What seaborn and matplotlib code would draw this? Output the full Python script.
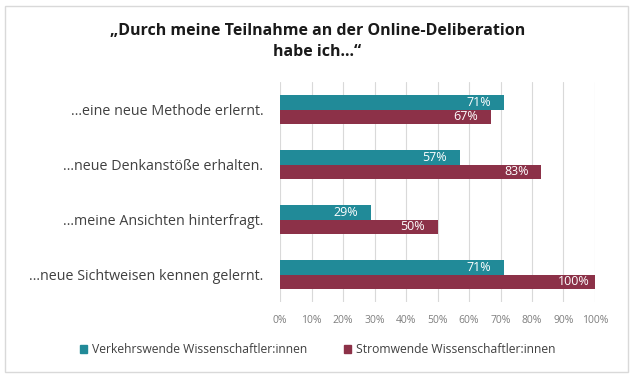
import seaborn as sns
import pandas as pd
import numpy as np
import matplotlib.pyplot as plt
from matplotlib.patches import Rectangle

statements = ['…eine neue Methode erlernt.', '…neue Denkanstöße erhalten.',
              '…meine Ansichten hinterfragt.', '…neue Sichtweisen kennen gelernt.']
groups = ['Verkehrswende Wissenschaftler:innen', 'Stromwende Wissenschaftler:innen']
verkehr = [71, 57, 29, 71]
strom = [67, 83, 50, 100]
x_ticks = [0, 10, 20, 30, 40, 50, 60, 70, 80, 90, 100]
colors = ['#218a98', '#8c3148']

data = pd.DataFrame({
    'Aussage': statements * 2,
    'Gruppe': [groups[0]] * 4 + [groups[1]] * 4,
    'Anteil': verkehr + strom,
})

sns.set_style('white')
plt.rcParams['font.family'] = ['Open Sans', 'DejaVu Sans']

fig = plt.figure(figsize=(6.35, 3.8), dpi=100)
ax = fig.add_axes([0.441, 0.205, 0.496, 0.579])

sns.barplot(data=data, y='Aussage', x='Anteil', hue='Gruppe', orient='h',
            palette=colors, width=0.52, dodge=True, saturation=1, ax=ax,
            order=statements, hue_order=groups, legend=False, linewidth=0,
            gap=0)

for cont in ax.containers:
    ax.bar_label(cont, labels=[f'{v:.0f}%' for v in cont.datavalues],
                 padding=-27, color='white', fontsize=9)

ax.set_xlim(0, 100)
ax.set_ylim(3.5, -0.5)
ax.set_xticks(x_ticks)
ax.set_xticklabels([f'{t}%' for t in x_ticks], fontsize=7.5, color='#7f7f7f')
ax.tick_params(axis='x', length=0, pad=9)
ax.tick_params(axis='y', length=0, pad=12, labelsize=10.3, labelcolor='#404040')
ax.xaxis.grid(True, color='#d9d9d9', linewidth=0.8)
ax.set_axisbelow(True)
for s in ax.spines.values():
    s.set_visible(False)
ax.set_xlabel('')
ax.set_ylabel('')

fig.text(0.5, 0.89, '„Durch meine Teilnahme an der Online-Deliberation\nhabe ich…“',
         ha='center', va='center', fontsize=11.5, fontweight='bold', color='#1a1a1a',
         linespacing=1.45)

handles = [Rectangle((0, 0), 1, 1, color=c) for c in colors]
fig.legend(handles, groups, loc='center', bbox_to_anchor=(0.5, 0.08), ncol=2,
           frameon=False, fontsize=8.7, labelcolor='#404040', handlelength=0.6,
           handleheight=0.6, columnspacing=3.0, handletextpad=0.4)

fig.patches.append(Rectangle((0.008, 0.02), 0.981, 0.965, transform=fig.transFigure,
                             fill=False, edgecolor='#d9d9d9', linewidth=1))

fig.savefig('out.png', dpi=100)
